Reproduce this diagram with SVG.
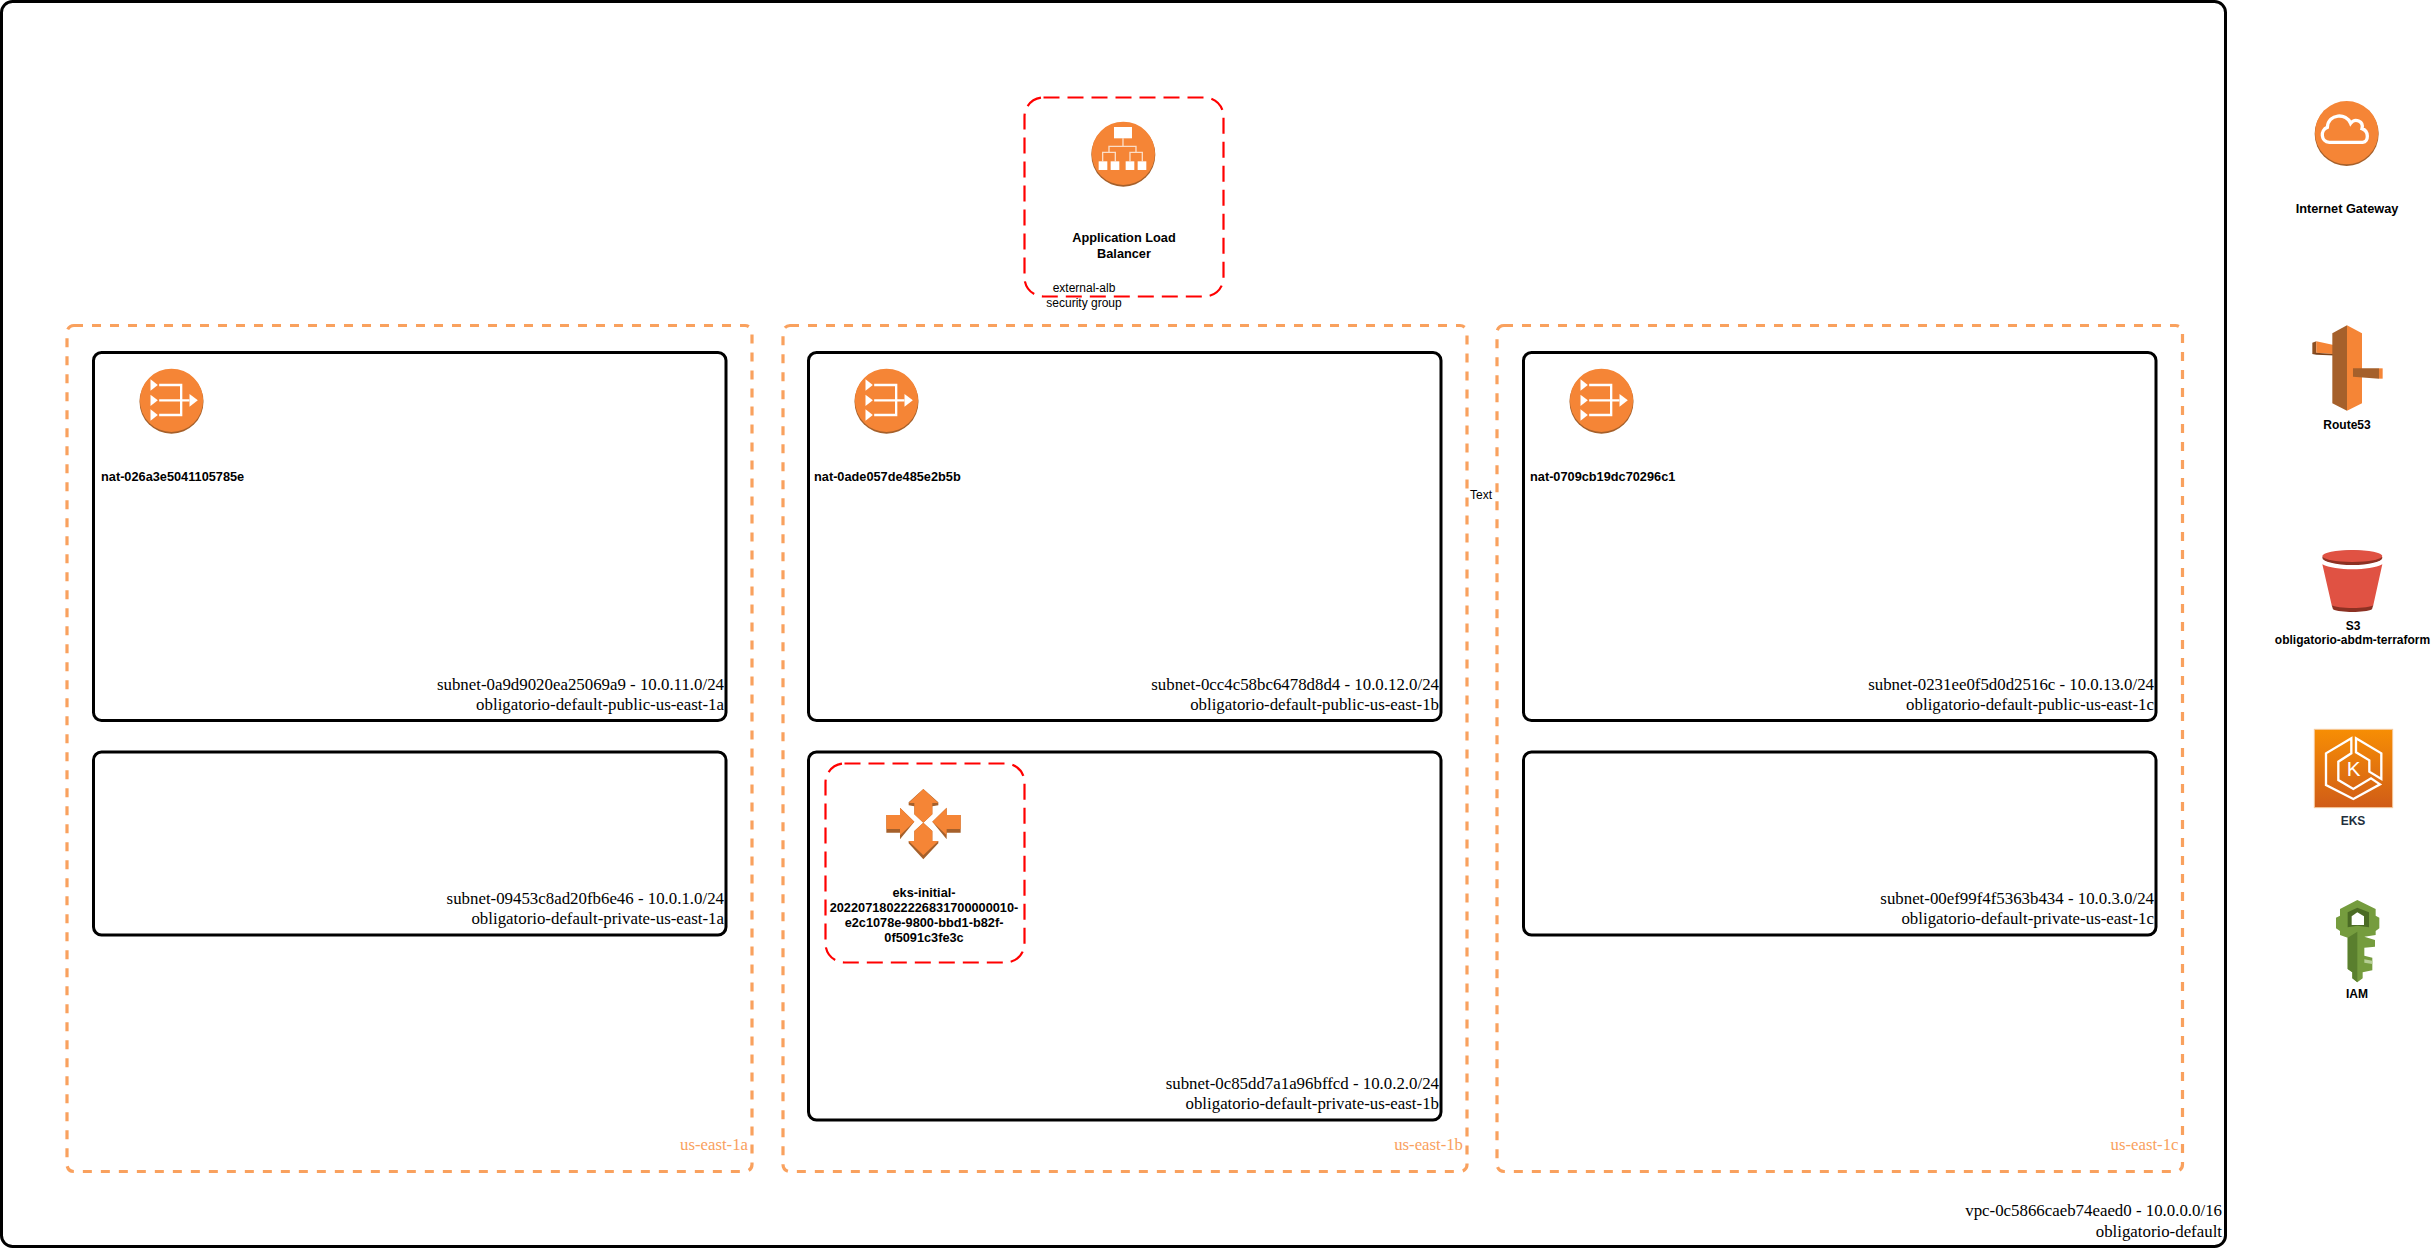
<svg xmlns="http://www.w3.org/2000/svg" width="2431" height="1249" viewBox="0 0 2431 1249">
<style>
.vpc,.subnet{fill:none;stroke:#000;stroke-width:3}
.az{fill:none;stroke:#F9A15E;stroke-width:3.2;stroke-dasharray:9 9}
.sg{fill:none;stroke:#FF0000;stroke-width:2.2;stroke-dasharray:16 8}
.ser{font-family:"Liberation Serif",serif;font-size:16.850px;fill:#000;text-anchor:end}
.azl{font-family:"Liberation Serif",serif;font-size:16.750px;fill:#F9A15E;text-anchor:end}
.b{font-family:"Liberation Sans",Arial,sans-serif;font-size:12.75px;font-weight:700;fill:#000;text-anchor:middle}
.s{font-size:12px}
.n{font-family:"Liberation Sans",Arial,sans-serif;font-size:12px;fill:#000;text-anchor:middle}
.dk{fill:#A5602B}.or{fill:#F58536}
</style>
<defs>
<linearGradient id="eksg" x1="0" y1="0" x2="0" y2="1"><stop offset="0" stop-color="#F78E04"/><stop offset="1" stop-color="#D05C17"/></linearGradient>
<g id="disc"><circle class="dk" cx="0" cy="2" r="96"/><circle class="or" cx="0" cy="-2" r="95"/></g>
<g id="nat-icon" transform="scale(.3333)">
<use href="#disc"/>
<g fill="#fff"><path d="M-63 -65L-41 -48L-63 -31Z"/><path d="M-63 -19L-41 -2L-63 15Z"/><path d="M-63 25L-41 42L-63 59Z"/><path d="M54 -21L79 -2L54 17Z"/></g>
<path d="M-37 -48H29V42H-37M-37 -2H54" fill="none" stroke="#fff" stroke-width="7"/>
</g>
</defs>
<rect width="2431" height="1249" fill="#fff"/>

<g id="vpc"><rect class="vpc" x="1.500" y="1.500" width="2224" height="1245" rx="11"/>
<text class="ser" x="2222" y="1216">vpc-0c5866caeb74eaed0 - 10.0.0.0/16</text><text class="ser" x="2222" y="1237">obligatorio-default</text></g>

<g id="az-a"><rect class="az" x="67" y="325.500" width="685" height="846" rx="7"/><text class="azl" x="748" y="1150">us-east-1a</text></g>
<g id="az-b"><rect class="az" x="783" y="325.500" width="684" height="846" rx="7"/><text class="azl" x="1463" y="1150">us-east-1b</text></g>
<g id="az-c"><rect class="az" x="1497" y="325.500" width="685.500" height="846" rx="7"/><text class="azl" x="2178.500" y="1150">us-east-1c</text></g>

<g id="subnet-public-a"><rect class="subnet" x="93.500" y="352.500" width="632.500" height="368" rx="8"/>
<text class="ser" x="724" y="690">subnet-0a9d9020ea25069a9 - 10.0.11.0/24</text><text class="ser" x="724" y="710">obligatorio-default-public-us-east-1a</text></g>
<g id="subnet-private-a"><rect class="subnet" x="93.500" y="752" width="632.500" height="183" rx="8"/>
<text class="ser" x="724" y="904">subnet-09453c8ad20fb6e46 - 10.0.1.0/24</text><text class="ser" x="724" y="924">obligatorio-default-private-us-east-1a</text></g>
<g id="subnet-public-b"><rect class="subnet" x="808.500" y="352.500" width="632.500" height="368" rx="8"/>
<text class="ser" x="1439" y="690">subnet-0cc4c58bc6478d8d4 - 10.0.12.0/24</text><text class="ser" x="1439" y="710">obligatorio-default-public-us-east-1b</text></g>
<g id="subnet-private-b"><rect class="subnet" x="808.500" y="752" width="632.500" height="368" rx="8"/>
<text class="ser" x="1439" y="1089">subnet-0c85dd7a1a96bffcd - 10.0.2.0/24</text><text class="ser" x="1439" y="1109">obligatorio-default-private-us-east-1b</text></g>
<g id="subnet-public-c"><rect class="subnet" x="1523.500" y="352.500" width="632.500" height="368" rx="8"/>
<text class="ser" x="2154" y="690">subnet-0231ee0f5d0d2516c - 10.0.13.0/24</text><text class="ser" x="2154" y="710">obligatorio-default-public-us-east-1c</text></g>
<g id="subnet-private-c"><rect class="subnet" x="1523.500" y="752" width="632.500" height="183" rx="8"/>
<text class="ser" x="2154" y="904">subnet-00ef99f4f5363b434 - 10.0.3.0/24</text><text class="ser" x="2154" y="924">obligatorio-default-private-us-east-1c</text></g>

<g id="nat-a"><use href="#nat-icon" transform="translate(171.500,401)"/><text class="b" style="text-anchor:start" x="101" y="481">nat-026a3e5041105785e</text></g>
<g id="nat-b"><use href="#nat-icon" transform="translate(886.500,401)"/><text class="b" style="text-anchor:start" x="814" y="481">nat-0ade057de485e2b5b</text></g>
<g id="nat-c"><use href="#nat-icon" transform="translate(1601.500,401)"/><text class="b" style="text-anchor:start" x="1530" y="481">nat-0709cb19dc70296c1</text></g>

<g id="alb"><rect class="sg" x="1024.500" y="97.500" width="199" height="199" rx="19"/>
<g transform="translate(980,70) scale(.3333)">
<use href="#disc" transform="translate(430,252)"/>
<path d="M429 205V229M387 247V229H468V247M368 274V247H406V274M450 274V247H487V274" fill="none" stroke="#FBDDC6" stroke-width="4"/>
<g fill="#fff"><rect x="402" y="171" width="54" height="34"/><rect x="356" y="274" width="26" height="26"/><rect x="392" y="274" width="26" height="26"/><rect x="437" y="274" width="26" height="26"/><rect x="473" y="274" width="26" height="26"/></g>
</g>
<text class="b" x="1124" y="242">Application Load</text><text class="b" x="1124" y="258">Balancer</text>
<text class="n" x="1084" y="292">external-alb</text><text class="n" x="1084" y="307">security group</text></g>

<g id="asg"><rect class="sg" x="825.500" y="763.500" width="199" height="199" rx="19"/>
<g transform="translate(880,780) scale(.3333)">
<path class="dk" d="M19 105H60V83L103 125L60 178V158H19ZM242 105H200V83L157 125L200 178V158H242Z"/>
<path class="or" d="M19 105H60V83L103 125L60 166V147H19ZM242 105H200V83L157 125L200 166V147H242Z"/>
<path class="dk" d="M130 27L175 67V76L157 79V103L130 128L103 103V79L86 76V67Z"/>
<path class="or" d="M130 27L175 69H157V103L130 128L103 103V69H86Z"/>
<path class="dk" d="M130 238L175 190V183L157 185V153L130 128L103 153V185L86 183V190Z"/>
<path class="or" d="M130 226L175 183H157V153L130 128L103 153V183H86Z"/>
</g>
<text class="b" x="924" y="897">eks-initial-</text><text class="b" x="924" y="912">20220718022226831700000010-</text><text class="b" x="924" y="927">e2c1078e-9800-bbd1-b82f-</text><text class="b" x="924" y="942">0f5091c3fe3c</text></g>

<g id="text-label"><text class="n" x="1481" y="499">Text</text></g>

<g id="igw"><g transform="translate(2270,70) scale(.3333)"><use href="#disc" transform="translate(230,190)"/>
<path d="M178 217H278C297 215 297 183 276 176C282 153 255 143 242 160C230 128 175 130 172 172C150 180 152 215 178 217Z" fill="none" stroke="#fff" stroke-width="10"/></g>
<text class="b" x="2347" y="213">Internet Gateway</text></g>

<g id="route53"><g transform="translate(2305,320) scale(.3333)">
<path d="M22 68L34 64V102H22Z" fill="#8C4F22"/><path d="M34 64L110 80V104L34 98Z" fill="#F58536"/><path d="M22 102L34 98L110 104V107L34 104Z" fill="#7A431C"/>
<path d="M126 16L82 40V250L126 272Z" fill="#A5602B"/><path d="M126 16L171 40V250L126 272Z" fill="#F58536"/>
<path d="M144 145H222V176L144 170Z" fill="#A5602B"/><path d="M222 145H233V176H222Z" fill="#F58536"/>
</g><text class="b s" x="2347" y="429">Route53</text></g>

<g id="s3"><g transform="translate(2315,545) scale(.3333)">
<path d="M22 58C60 78 165 78 202 58L175 180C165 200 60 200 50 180Z" fill="#E05243"/>
<path d="M50 180C62 192 165 192 175 180L171 193C150 204 75 204 54 193Z" fill="#8C3123"/>
<ellipse cx="112" cy="38" rx="90" ry="22" fill="#8C3123"/>
<ellipse cx="112" cy="33" rx="90" ry="18" fill="#E05243"/>
</g><text class="b s" x="2353" y="630">S3</text><text class="b s" x="2352.500" y="644">obligatorio-abdm-terraform</text></g>

<g id="eks"><g transform="translate(2310,725) scale(.3333)">
<rect x="13" y="13" width="235" height="235" fill="url(#eksg)" stroke="#F7C99B" stroke-width="3"/>
<g fill="none" stroke="#fff" stroke-width="7"><path d="M124 40L48 85V180L130 222L210 178L183 160L130 192L85 165V110L124 85Z"/><path d="M138 40L214 85V162L178 140V106L138 82Z"/></g>
<text x="131" y="152" font-family="'Liberation Sans',Arial,sans-serif" font-size="62" fill="#fff" text-anchor="middle">K</text>
</g><text class="b s" style="fill:#232F3E" x="2353" y="825">EKS</text></g>

<g id="iam"><g transform="translate(2325,895) scale(.3333)">
<path d="M97 15L45 42V62L33 68V100L45 108V120L68 128V222L82 232V250L97 262L113 250V232L142 226V188L118 182V158L150 155V135L118 125L152 120V108L163 100V68L152 62V42Z" fill="#759C3E"/>
<path d="M97 110L68 128V222L82 232V250L97 262Z" fill="#5A7F2E"/>
<path d="M118 193L142 197V207L118 203Z" fill="#B7CF97"/>
<path d="M68 52L97 38L132 52V97L97 92L68 97Z" fill="#4B6B24"/>
<path d="M80 64L97 52L117 64V90H80Z" fill="#fff"/>
</g><text class="b s" x="2357" y="998">IAM</text></g>
</svg>
